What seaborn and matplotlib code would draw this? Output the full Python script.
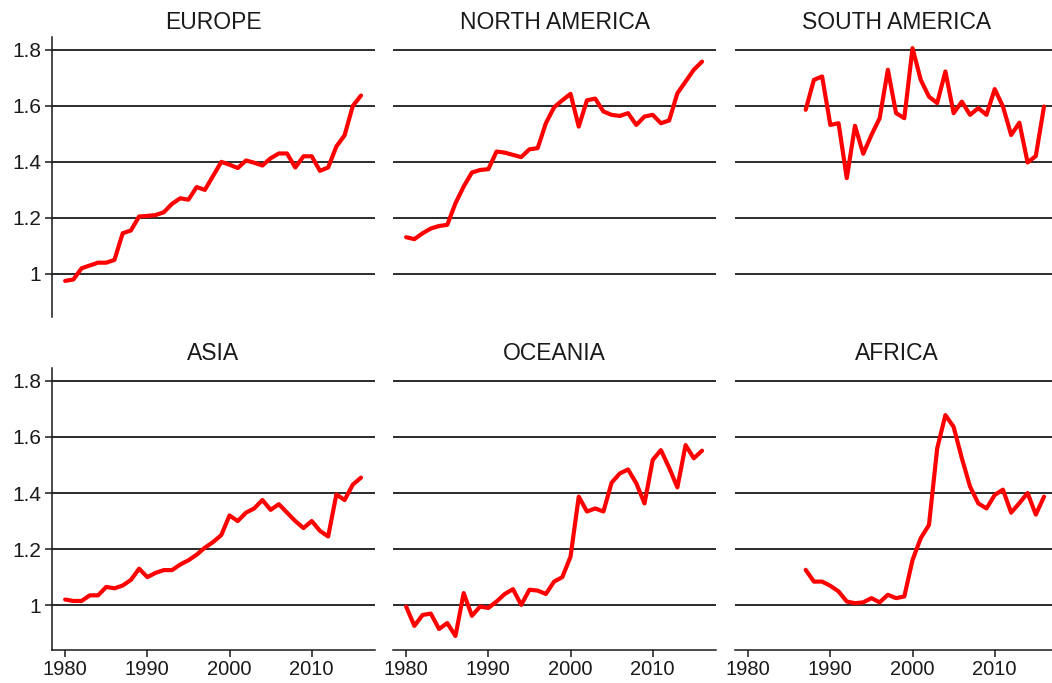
"""Six-panel regional trend chart, one red line per region."""

import matplotlib
import pandas as pd
import seaborn as sns

matplotlib.use("Agg")
import matplotlib.pyplot as plt  # noqa: E402

YEARS_FULL = list(range(1980, 2017))
YEARS_LATE = list(range(1987, 2017))

EUROPE = [
    0.975, 0.98, 1.02, 1.03, 1.04, 1.04, 1.05, 1.145, 1.155, 1.205,
    1.207, 1.21, 1.22, 1.25, 1.27, 1.265, 1.31, 1.30, 1.35, 1.40,
    1.39, 1.378, 1.405, 1.397, 1.387, 1.413, 1.43, 1.43, 1.38, 1.42,
    1.42, 1.368, 1.38, 1.455, 1.495, 1.60, 1.637,
]
NORTH_AMERICA = [
    1.131, 1.124, 1.145, 1.162, 1.171, 1.175, 1.252, 1.312, 1.362, 1.371,
    1.374, 1.437, 1.433, 1.425, 1.417, 1.445, 1.449, 1.538, 1.595, 1.62,
    1.643, 1.526, 1.62, 1.626, 1.58, 1.568, 1.564, 1.574, 1.532, 1.562,
    1.568, 1.538, 1.548, 1.645, 1.687, 1.729, 1.758,
]
SOUTH_AMERICA = [
    1.586, 1.693, 1.705, 1.532, 1.538, 1.342, 1.529, 1.429, 1.496, 1.556,
    1.729, 1.574, 1.556, 1.806, 1.693, 1.633, 1.61, 1.723, 1.574, 1.615,
    1.568, 1.592, 1.568, 1.66, 1.598, 1.496, 1.54, 1.398, 1.421, 1.598,
]
ASIA = [
    1.02, 1.015, 1.015, 1.035, 1.035, 1.065, 1.06, 1.07, 1.09, 1.13,
    1.10, 1.115, 1.125, 1.125, 1.145, 1.16, 1.18, 1.205, 1.225, 1.25,
    1.32, 1.30, 1.33, 1.345, 1.375, 1.34, 1.36, 1.33, 1.30, 1.275,
    1.30, 1.265, 1.245, 1.395, 1.375, 1.43, 1.455,
]
OCEANIA = [
    0.995, 0.926, 0.965, 0.97, 0.915, 0.936, 0.89, 1.043, 0.962, 0.995,
    0.99, 1.013, 1.04, 1.057, 1.001, 1.055, 1.052, 1.04, 1.084, 1.10,
    1.173, 1.387, 1.334, 1.345, 1.334, 1.437, 1.47, 1.484, 1.435, 1.363,
    1.518, 1.553, 1.49, 1.42, 1.571, 1.524, 1.551,
]
AFRICA = [
    1.126, 1.084, 1.084, 1.069, 1.049, 1.013, 1.007, 1.01, 1.025, 1.01,
    1.037, 1.025, 1.031, 1.161, 1.239, 1.286, 1.559, 1.678, 1.636, 1.524,
    1.423, 1.363, 1.345, 1.393, 1.412, 1.330, 1.364, 1.40, 1.323, 1.387,
]

REGIONS = [
    ("EUROPE", YEARS_FULL, EUROPE),
    ("NORTH AMERICA", YEARS_FULL, NORTH_AMERICA),
    ("SOUTH AMERICA", YEARS_LATE, SOUTH_AMERICA),
    ("ASIA", YEARS_FULL, ASIA),
    ("OCEANIA", YEARS_FULL, OCEANIA),
    ("AFRICA", YEARS_LATE, AFRICA),
]

Y_TICKS = [1.0, 1.2, 1.4, 1.6, 1.8]
Y_TICK_LABELS = ["1", "1.2", "1.4", "1.6", "1.8"]
X_TICKS = [1980, 1990, 2000, 2010]

INK = "#1a1a1a"


def build_frame() -> pd.DataFrame:
    """Stack the region lists into one long table."""
    parts = [
        pd.DataFrame({"region": name, "year": years, "value": values})
        for name, years, values in REGIONS
    ]
    return pd.concat(parts, ignore_index=True)


def main() -> None:
    frame = build_frame()
    sns.set_theme(style="white")
    plt.rcParams["font.family"] = ["Liberation Sans", "DejaVu Sans"]

    fig_w, fig_h = 1052, 683
    fig = plt.figure(figsize=(fig_w / 100, fig_h / 100), dpi=100)

    col_left = [52, 393, 735]
    width = 323
    rows = [(37, 317, 0.846), (368, 650, 0.840)]

    for idx, (name, _, _) in enumerate(REGIONS):
        row, col = divmod(idx, 3)
        top, bottom, y_low = rows[row]
        ax = fig.add_axes(
            [col_left[col] / fig_w, 1 - bottom / fig_h,
             width / fig_w, (bottom - top) / fig_h]
        )
        sns.lineplot(
            data=frame[frame["region"] == name],
            x="year",
            y="value",
            color="#ff0000",
            linewidth=3.0,
            ax=ax,
        )
        ax.set_xlim(1978.4, 2017.7)
        ax.set_ylim(y_low, 1.846)
        ax.set_xlabel("")
        ax.set_ylabel("")
        ax.set_title(name, fontsize=16.5, color=INK, pad=6)

        for y in Y_TICKS:
            ax.axhline(y, color=INK, linewidth=1.3, zorder=0)

        for side in ("top", "right", "left", "bottom"):
            ax.spines[side].set_visible(False)
        ax.spines["left"].set_color(INK)
        ax.spines["bottom"].set_color(INK)
        ax.spines["left"].set_linewidth(1.1)
        ax.spines["bottom"].set_linewidth(1.1)

        ax.set_yticks(Y_TICKS)
        ax.set_xticks(X_TICKS)
        if col == 0:
            ax.spines["left"].set_visible(True)
            ax.set_yticklabels(Y_TICK_LABELS)
            ax.tick_params(axis="y", left=True, length=5, width=1.1,
                           pad=3, labelsize=15, colors=INK)
        else:
            ax.tick_params(axis="y", left=False, labelleft=False)
        if row == 1:
            ax.spines["bottom"].set_visible(True)
            ax.tick_params(axis="x", bottom=True, length=5, width=1.1,
                           pad=2, labelsize=14.5, colors=INK)
        else:
            ax.tick_params(axis="x", bottom=False, labelbottom=False)

    fig.savefig("out.png", dpi=100)
    plt.close(fig)


if __name__ == "__main__":
    main()
